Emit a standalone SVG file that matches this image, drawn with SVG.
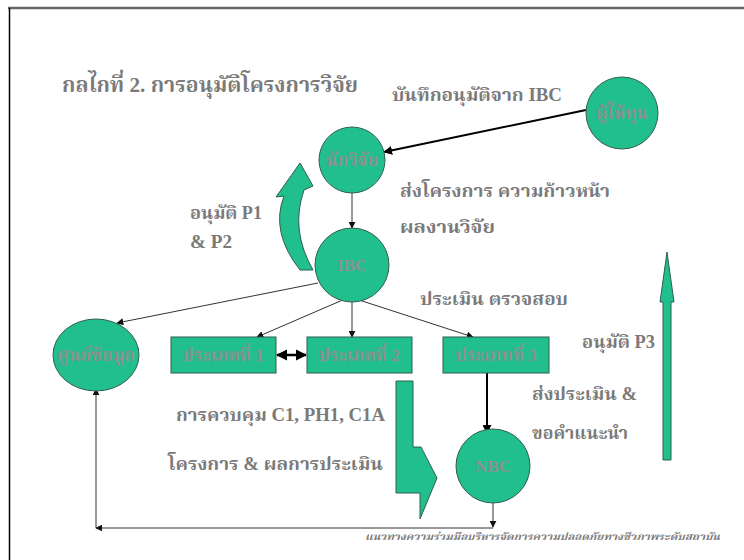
<svg xmlns="http://www.w3.org/2000/svg" width="744" height="560" viewBox="0 0 744 560">
<style>
.t{font-family:"Liberation Serif","Noto Serif Thai","Noto Sans Thai",serif;font-weight:bold;fill:#7a7a7a;font-size:18px}
.n{font-family:"Liberation Serif","Noto Serif Thai","Noto Sans Thai",serif;font-weight:bold;fill:#8f8f8f;text-anchor:middle;font-size:17px}
.g{fill:#22BF8E;stroke:#2f5f4c;stroke-width:1}
.c{fill:none;stroke:#333;stroke-width:1}
.k{fill:none;stroke:#000;stroke-width:2.5}
</style>
<defs>
<marker id="a" viewBox="0 0 10 10" refX="9" refY="5" markerWidth="7" markerHeight="7" orient="auto-start-reverse" markerUnits="userSpaceOnUse"><path d="M0,0L10,5L0,10z" fill="#111"/></marker>
<marker id="b" viewBox="0 0 10 10" refX="9" refY="5" markerWidth="4.5" markerHeight="4.5" orient="auto-start-reverse"><path d="M0,0L10,5L0,10z" fill="#000"/></marker>
</defs>
<rect width="744" height="560" fill="#fff"/>
<g id="frame">
<line x1="8" y1="8" x2="744" y2="8" stroke="#666" stroke-width="2.5"/>
<line x1="9.5" y1="8" x2="9.5" y2="560" stroke="#000" stroke-width="1.5"/>
</g>
<g id="title"><text class="t" x="62" y="92" style="font-size:21px" textLength="296" lengthAdjust="spacingAndGlyphs">กลไกที่ 2. การอนุมัติโครงการวิจัย</text></g>
<g id="connectors">
<line class="c" x1="586" y1="110" x2="384" y2="152" marker-end="url(#b)" style="stroke:#000;stroke-width:2"/>
<line class="c" x1="352" y1="193" x2="352" y2="228" marker-end="url(#a)"/>
<line class="c" x1="318" y1="283" x2="117" y2="323" marker-end="url(#a)"/>
<line class="c" x1="345" y1="299" x2="257" y2="337" marker-end="url(#a)"/>
<line class="c" x1="352" y1="300" x2="352" y2="337" marker-end="url(#a)"/>
<line class="c" x1="356" y1="299" x2="473" y2="337" marker-end="url(#a)"/>
<line class="k" x1="277" y1="355" x2="306" y2="355" marker-start="url(#b)" marker-end="url(#b)"/>
<line class="c" x1="487" y1="373" x2="487" y2="433" marker-end="url(#b)" style="stroke:#000;stroke-width:2"/>
<line class="c" x1="493" y1="503" x2="493" y2="527" marker-end="url(#a)"/>
<line class="c" x1="493" y1="528" x2="96" y2="528" marker-end="url(#a)"/>
<line class="c" x1="96" y1="528" x2="96" y2="389" marker-end="url(#a)"/>
<path class="g" d="M300,270 Q270,232 284,196 L276,197 L300,163 L313,186 L304,190 Q290,230 313,270 Z"/>
<path class="g" d="M663,460 L671,460 L671,302 L674,302 L667,252 L660,302 L663,302 Z"/>
<path class="g" d="M396,381 L413,381 L413,447 L421,447 L437,478 L420,519 L420,493 L396,493 Z"/>
</g>
<g id="funder"><circle class="g" cx="622" cy="113" r="36"/><text class="n" x="622" y="119">ผู้ให้ทุน</text></g>
<g id="researcher"><circle class="g" cx="352" cy="160" r="33"/><text class="n" x="352" y="166">นักวิจัย</text></g>
<g id="ibc"><circle class="g" cx="352" cy="265" r="37"/><text class="n" x="352" y="271">IBC</text></g>
<g id="datacenter"><ellipse class="g" cx="96" cy="355" rx="43" ry="36"/><text class="n" x="96" y="361" textLength="78" lengthAdjust="spacingAndGlyphs">ศูนย์ข้อมูล</text></g>
<g id="type1"><rect class="g" x="171" y="337" width="105" height="36"/><text class="n" x="223" y="361">ประเภทที่ 1</text></g>
<g id="type2"><rect class="g" x="307" y="337" width="105" height="36"/><text class="n" x="359" y="361">ประเภทที่ 2</text></g>
<g id="type3"><rect class="g" x="443" y="337" width="106" height="36"/><text class="n" x="496" y="361">ประเภทที่ 3</text></g>
<g id="nbc"><circle class="g" cx="493" cy="466" r="37"/><text class="n" x="493" y="472">NBC</text></g>
<g id="labels">
<text class="t" x="392" y="101" textLength="170" lengthAdjust="spacingAndGlyphs">บันทึกอนุมัติจาก IBC</text>
<text class="t" x="400" y="197" textLength="210" lengthAdjust="spacingAndGlyphs">ส่งโครงการ ความก้าวหน้า</text>
<text class="t" x="400" y="233" textLength="95" lengthAdjust="spacingAndGlyphs">ผลงานวิจัย</text>
<text class="t" x="190" y="219" textLength="72" lengthAdjust="spacingAndGlyphs">อนุมัติ P1</text>
<text class="t" x="190" y="248" textLength="42" lengthAdjust="spacingAndGlyphs">&amp; P2</text>
<text class="t" x="420" y="305" textLength="148" lengthAdjust="spacingAndGlyphs">ประเมิน ตรวจสอบ</text>
<text class="t" x="582" y="348" textLength="73" lengthAdjust="spacingAndGlyphs">อนุมัติ P3</text>
<text class="t" x="532" y="400" textLength="105" lengthAdjust="spacingAndGlyphs">ส่งประเมิน &amp;</text>
<text class="t" x="532" y="439" textLength="96" lengthAdjust="spacingAndGlyphs">ขอคำแนะนำ</text>
<text class="t" x="176" y="421" textLength="209" lengthAdjust="spacingAndGlyphs">การควบคุม C1, PH1, C1A</text>
<text class="t" x="168" y="470" textLength="215" lengthAdjust="spacingAndGlyphs">โครงการ &amp; ผลการประเมิน</text>
<text class="t" x="365" y="540" style="font-size:10px;font-style:italic" textLength="355" lengthAdjust="spacingAndGlyphs">แนวทางความร่วมมือบริหารจัดการความปลอดภัยทางชีวภาพระดับสถาบัน</text>
</g>
</svg>
